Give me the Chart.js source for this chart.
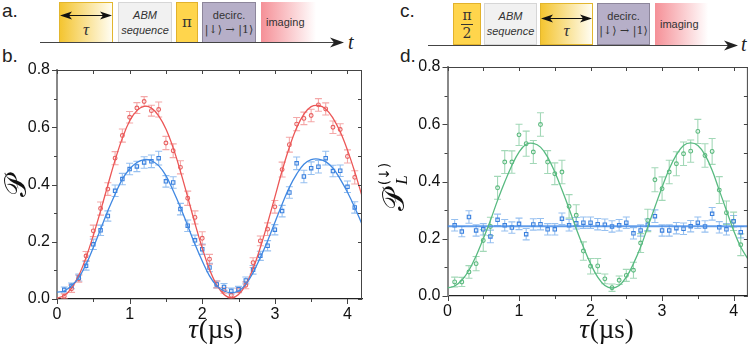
<!DOCTYPE html>
<html>
<head>
<meta charset="utf-8">
<script src="https://cdn.jsdelivr.net/npm/chart.js@4.4.1/dist/chart.umd.min.js"></script>
<style>
  body { margin: 0; width: 753px; height: 347px; overflow: hidden; position: relative; background: #fff;
         font-family: "Liberation Sans", Arial, sans-serif; }
  canvas { position: absolute; top: 0; }
  #chart-b { left: 0; }
  #chart-d { left: 376px; }
  .plabel { position: absolute; font-size: 19px; color: #222; line-height: 1; }
  .box { position: absolute; box-sizing: border-box; display: flex; flex-direction: column;
         align-items: center; justify-content: center; font-size: 11px; color: #333; line-height: 1.35; }
  .tau { background: linear-gradient(to right, #f4c531, #fffdf2); border: 1px solid #e2b62e; }
  .abm { background: #f1f1f1; border: 1px solid #d6d6d6; font-style: italic; }
  .pi { background: #ffd54c; border: 1px solid #e2b22c; font-family: "DejaVu Serif", serif; }
  .dec { background: #b6afc8; border: 1px solid #8d869b; }
  .img { background: linear-gradient(to right, #f59097, #fff 95%); align-items: flex-start; padding-left: 5px; }
  .ket { font-family: "DejaVu Serif", serif; font-size: 11px; }
  .mt { font-family: "Liberation Serif", serif; font-style: italic; }
  svg { position: absolute; left: 0; top: 0; }
</style>
</head>
<body>
<div class="plabel" style="left:2px;top:1px">a.</div>
<div class="plabel" style="left:2px;top:46px">b.</div>
<div class="plabel" style="left:400px;top:1px">c.</div>
<div class="plabel" style="left:400px;top:46px">d.</div>

<!-- sequence a -->
<div class="box tau" style="left:59px;top:2px;width:54px;height:41px"><span class="mt" style="font-size:17px;margin-top:16px">τ</span></div>
<div class="box abm" style="left:118px;top:2px;width:54px;height:41px"><span>ABM</span><span>sequence</span></div>
<div class="box pi" style="left:176px;top:2px;width:22px;height:41px;font-size:15px">π</div>
<div class="box dec" style="left:202px;top:2px;width:54px;height:41px"><span>decirc.</span><span class="ket">|↓⟩ → |1⟩</span></div>
<div class="box img" style="left:261px;top:2px;width:58px;height:41px">imaging</div>

<!-- sequence c -->
<div class="box pi" style="left:453px;top:3px;width:28px;height:42px;font-size:14px;line-height:1">
  <span>π</span><span style="width:12px;border-top:1px solid #333;margin:2px 0 1px"></span><span>2</span></div>
<div class="box abm" style="left:484px;top:3px;width:53px;height:42px"><span>ABM</span><span>sequence</span></div>
<div class="box tau" style="left:540px;top:3px;width:53px;height:42px"><span class="mt" style="font-size:17px;margin-top:14px">τ</span></div>
<div class="box dec" style="left:597px;top:3px;width:53px;height:42px"><span>decirc.</span><span class="ket">|↓⟩ → |1⟩</span></div>
<div class="box img" style="left:655px;top:3px;width:56px;height:42px">imaging</div>

<svg width="753" height="60">
  <g stroke="#444" stroke-width="1" fill="#222">
    <line x1="40" y1="42.5" x2="336" y2="42.5"/>
    <polygon points="344,42.5 330,37.5 334,42.5 330,47.5" stroke="none"/>
    <line x1="428" y1="45.5" x2="730" y2="45.5"/>
    <polygon points="738,45.5 724,40.5 728,45.5 724,50.5" stroke="none"/>
  </g>
  <g stroke="#111" stroke-width="1" fill="#111">
    <line x1="66" y1="15.5" x2="106" y2="15.5"/>
    <polygon points="60,15.5 72,11.5 69,15.5 72,19.5" stroke="none"/>
    <polygon points="112,15.5 100,11.5 103,15.5 100,19.5" stroke="none"/>
    <line x1="547" y1="18.5" x2="586" y2="18.5"/>
    <polygon points="541,18.5 553,14.5 550,18.5 553,22.5" stroke="none"/>
    <polygon points="592,18.5 580,14.5 583,18.5 580,22.5" stroke="none"/>
  </g>
  <text x="348" y="49" font-family="Liberation Serif" font-style="italic" font-size="20" fill="#222">t</text>
  <text x="741" y="51" font-family="Liberation Serif" font-style="italic" font-size="20" fill="#222">t</text>
</svg>

<canvas id="chart-b" width="376" height="347"></canvas>
<canvas id="chart-d" width="377" height="347"></canvas>

<script>
// measured points, tau in µs
const TAU_PTS = [0.1, 0.2, 0.3, 0.4, 0.5, 0.6, 0.7, 0.8, 0.9, 1.0, 1.1, 1.2, 1.3, 1.4, 1.5, 1.6, 1.7, 1.8, 1.9, 2.0,
  2.1, 2.2, 2.3, 2.4, 2.5, 2.6, 2.7, 2.8, 2.9, 3.0, 3.1, 3.2, 3.3, 3.4, 3.5, 3.6, 3.7, 3.8, 3.9, 4.0, 4.1];
// fit curves sampled on this grid
const TAU_FIT = [0.0, 0.1, 0.2, 0.3, 0.4, 0.5, 0.6, 0.7, 0.8, 0.9, 1.0, 1.1, 1.2, 1.3, 1.4, 1.5, 1.6, 1.7, 1.8, 1.9, 2.0,
  2.1, 2.2, 2.3, 2.4, 2.5, 2.6, 2.7, 2.8, 2.9, 3.0, 3.1, 3.2, 3.3, 3.4, 3.5, 3.6, 3.7, 3.8, 3.9, 4.0, 4.1, 4.2];

// panel b
const RED_B = [0.010, 0.036, 0.071, 0.150, 0.238, 0.316, 0.384, 0.492, 0.571, 0.635, 0.667, 0.690, 0.658, 0.662, 0.545,
  0.518, 0.460, 0.352, 0.285, 0.212, 0.139, 0.051, 0.030, 0.013, 0.030, 0.048, 0.127, 0.203, 0.244, 0.322, 0.452,
  0.539, 0.611, 0.631, 0.641, 0.678, 0.664, 0.600, 0.592, 0.498, 0.425];
const RED_B_ERR = [0.008, 0.013, 0.012, 0.016, 0.020, 0.023, 0.022, 0.023, 0.023, 0.020, 0.019, 0.017, 0.019, 0.026,
  0.023, 0.024, 0.023, 0.025, 0.023, 0.023, 0.017, 0.012, 0.010, 0.009, 0.008, 0.012, 0.017, 0.017, 0.022, 0.022,
  0.026, 0.026, 0.023, 0.022, 0.022, 0.022, 0.021, 0.022, 0.020, 0.023, 0.023];
const BLUE_B = [0.032, 0.046, 0.075, 0.116, 0.191, 0.240, 0.290, 0.378, 0.419, 0.454, 0.463, 0.477, 0.481, 0.492, 0.411,
  0.407, 0.314, 0.256, 0.205, 0.174, 0.110, 0.051, 0.042, 0.028, 0.034, 0.065, 0.102, 0.151, 0.186, 0.242, 0.307,
  0.372, 0.474, 0.428, 0.457, 0.462, 0.492, 0.447, 0.448, 0.392, 0.320];
const BLUE_B_ERR = [0.010, 0.010, 0.012, 0.015, 0.018, 0.018, 0.018, 0.020, 0.020, 0.020, 0.018, 0.020, 0.022, 0.024,
  0.020, 0.020, 0.020, 0.020, 0.018, 0.018, 0.015, 0.012, 0.012, 0.010, 0.010, 0.012, 0.015, 0.016, 0.018, 0.018,
  0.020, 0.020, 0.022, 0.022, 0.022, 0.022, 0.024, 0.020, 0.020, 0.020, 0.020];
const RED_B_FIT = [0.003, 0.012, 0.038, 0.082, 0.145, 0.222, 0.308, 0.398, 0.485, 0.562, 0.622, 0.658, 0.673, 0.667,
  0.640, 0.594, 0.528, 0.446, 0.356, 0.264, 0.178, 0.104, 0.049, 0.016, 0.004, 0.016, 0.050, 0.106, 0.180, 0.265,
  0.356, 0.448, 0.530, 0.598, 0.646, 0.672, 0.676, 0.664, 0.632, 0.584, 0.520, 0.444, 0.360];
const BLUE_B_FIT = [0.024, 0.028, 0.046, 0.075, 0.121, 0.180, 0.244, 0.308, 0.366, 0.419, 0.454, 0.477, 0.487, 0.483,
  0.466, 0.431, 0.378, 0.320, 0.256, 0.191, 0.133, 0.081, 0.046, 0.028, 0.022, 0.028, 0.051, 0.092, 0.145, 0.203,
  0.267, 0.331, 0.390, 0.436, 0.471, 0.487, 0.489, 0.480, 0.457, 0.419, 0.373, 0.320, 0.261];

// panel d
const GREEN_D = [0.049, 0.049, 0.084, 0.113, 0.194, 0.243, 0.378, 0.468, 0.468, 0.563, 0.532, 0.503, 0.599, 0.468,
  0.427, 0.433, 0.313, 0.282, 0.157, 0.104, 0.105, 0.060, 0.029, 0.055, 0.072, 0.090, 0.185, 0.264, 0.406, 0.375,
  0.433, 0.462, 0.497, 0.506, 0.575, 0.491, 0.505, 0.370, 0.291, 0.261, 0.179];
const GREEN_D_ERR = [0.017, 0.016, 0.022, 0.025, 0.038, 0.032, 0.040, 0.040, 0.039, 0.037, 0.044, 0.040, 0.041, 0.040,
  0.038, 0.041, 0.041, 0.037, 0.032, 0.027, 0.026, 0.017, 0.013, 0.015, 0.021, 0.028, 0.033, 0.039, 0.042, 0.041,
  0.041, 0.042, 0.041, 0.039, 0.042, 0.041, 0.045, 0.047, 0.041, 0.032, 0.038];
const BLUE_D = [0.247, 0.225, 0.276, 0.229, 0.233, 0.208, 0.266, 0.247, 0.239, 0.252, 0.216, 0.250, 0.251, 0.233,
  0.233, 0.270, 0.247, 0.254, 0.256, 0.256, 0.251, 0.249, 0.243, 0.247, 0.256, 0.219, 0.229, 0.249, 0.279, 0.229,
  0.229, 0.237, 0.235, 0.244, 0.256, 0.243, 0.287, 0.240, 0.233, 0.261, 0.223];
const BLUE_D_ERR = [0.020, 0.018, 0.022, 0.020, 0.020, 0.022, 0.020, 0.020, 0.020, 0.020, 0.020, 0.020, 0.020, 0.020,
  0.020, 0.020, 0.020, 0.020, 0.020, 0.020, 0.020, 0.020, 0.020, 0.020, 0.020, 0.020, 0.020, 0.020, 0.022, 0.020,
  0.020, 0.020, 0.020, 0.020, 0.020, 0.020, 0.022, 0.020, 0.020, 0.020, 0.020];
const GREEN_D_FIT = [0.028, 0.035, 0.055, 0.090, 0.140, 0.200, 0.264, 0.334, 0.398, 0.456, 0.503, 0.530, 0.533, 0.520,
  0.485, 0.433, 0.371, 0.305, 0.235, 0.171, 0.113, 0.066, 0.037, 0.028, 0.037, 0.066, 0.113, 0.171, 0.241, 0.311,
  0.380, 0.444, 0.493, 0.526, 0.535, 0.526, 0.493, 0.439, 0.369, 0.299, 0.229, 0.171, 0.130];
const BLUE_D_LEVEL = 0.244;

const X_RANGE = [0, 4.2];
const Y_RANGE = [0, 0.8];

const pts = (xs, ys) => xs.map((x, i) => ({ x, y: ys[i] }));

function pointSet(xs, ys, errs, color, errColor, style) {
  return {
    data: pts(xs, ys), errors: errs, errColor,
    showLine: false, pointStyle: style, pointRadius: style === "rect" ? 2.4 : 1.9,
    borderColor: color, backgroundColor: "rgba(255,255,255,0.4)", pointBorderWidth: 1.1,
  };
}

function fitSet(xs, ys, color, width) {
  return { data: pts(xs, ys), showLine: true, borderColor: color, borderWidth: width || 1.3,
    pointRadius: 0, tension: 0.4, fill: false };
}

const deco = {
  id: "deco",
  beforeDatasetsDraw(chart) {
    const { ctx, scales: { x, y } } = chart;
    ctx.save();
    chart.data.datasets.forEach((ds) => {
      if (!ds.errors) return;
      ctx.strokeStyle = ds.errColor;
      ctx.lineWidth = 1.1;
      ds.data.forEach((p, i) => {
        const px = x.getPixelForValue(p.x);
        const y1 = y.getPixelForValue(p.y - ds.errors[i]);
        const y2 = y.getPixelForValue(p.y + ds.errors[i]);
        ctx.beginPath();
        ctx.moveTo(px, y1); ctx.lineTo(px, y2);
        ctx.moveTo(px - 3.5, y1); ctx.lineTo(px + 3.5, y1);
        ctx.moveTo(px - 3.5, y2); ctx.lineTo(px + 3.5, y2);
        ctx.stroke();
      });
    });
    ctx.restore();
  },
  afterDraw(chart) {
    const o = chart.options.plugins.deco;
    const { ctx, chartArea: a, scales: { x, y } } = chart;
    ctx.save();
    ctx.strokeStyle = "#444";
    ctx.lineWidth = 1;
    ctx.beginPath();
    ctx.moveTo(a.left, a.top + 0.5); ctx.lineTo(a.right, a.top + 0.5);
    ctx.moveTo(a.right - 0.5, a.top); ctx.lineTo(a.right - 0.5, a.bottom);
    // top + bottom ticks every 0.5
    for (let k = 0; k <= 8; k++) {
      const px = Math.round(x.getPixelForValue(k * 0.5)) + 0.5;
      ctx.moveTo(px, a.top); ctx.lineTo(px, a.top + 4);
      ctx.moveTo(px, a.bottom); ctx.lineTo(px, a.bottom + (k % 2 ? 3 : 5));
    }
    // left + right ticks every 0.1
    for (let k = 0; k <= 8; k++) {
      const py = Math.round(y.getPixelForValue(k * 0.1)) + 0.5;
      ctx.moveTo(a.left, py); ctx.lineTo(a.left - (k % 2 ? 3 : 5), py);
      ctx.moveTo(a.right, py); ctx.lineTo(a.right - 4, py);
    }
    ctx.stroke();

    // x title: tau(µs)
    ctx.fillStyle = "#111";
    ctx.textBaseline = "alphabetic";
    ctx.font = "italic 27px 'Liberation Serif'";
    const wt = ctx.measureText("τ").width;
    ctx.font = "27px 'Liberation Serif'";
    const wu = ctx.measureText("(µs)").width;
    let tx = o.xTitleX - (wt + wu) / 2;
    ctx.font = "italic 27px 'Liberation Serif'";
    ctx.fillText("τ", tx, o.xTitleY);
    ctx.font = "27px 'Liberation Serif'";
    ctx.fillText("(µs)", tx + wt + 1, o.xTitleY);

    // y title
    ctx.translate(o.yTitleX, o.yTitleY);
    ctx.rotate(-Math.PI / 2);
    ctx.textAlign = "center";
    ctx.textBaseline = "middle";
    ctx.font = "30px 'DejaVu Serif'";
    if (o.sub) {
      ctx.fillText("𝒫", -14, 0);
      ctx.font = "italic 17px 'Liberation Serif'";
      ctx.fillText("L", 6, 7);
      ctx.font = "14px 'DejaVu Sans'";
      ctx.fillText("(↓)", 12, -11);
    } else {
      ctx.fillText("𝒫", 0, 0);
    }
    ctx.restore();
  },
};

function panelOptions(pad, yWidth, xHeight, decoOpts) {
  return {
    responsive: false,
    animation: false,
    layout: { padding: pad },
    plugins: { legend: { display: false }, tooltip: { enabled: false }, deco: decoOpts },
    scales: {
      x: {
        type: "linear", min: X_RANGE[0], max: X_RANGE[1],
        afterFit: (s) => { s.height = xHeight; },
        grid: { display: false, drawTicks: false },
        border: { display: true, color: "#222", width: 1.3 },
        ticks: { stepSize: 1, includeBounds: false, padding: 6, color: "#111",
          font: { family: "'Liberation Sans', Arial", size: 16 }, callback: (v) => String(v) },
      },
      y: {
        type: "linear", min: Y_RANGE[0], max: Y_RANGE[1],
        afterFit: (s) => { s.width = yWidth; },
        grid: { display: false, drawTicks: false },
        border: { display: true, color: "#888", width: 2 },
        ticks: { stepSize: 0.2, padding: 7, color: "#111",
          font: { family: "'Liberation Sans', Arial", size: 16 }, callback: (v) => v.toFixed(1) },
      },
    },
  };
}

new Chart(document.getElementById("chart-b"), {
  type: "scatter",
  data: {
    datasets: [
      fitSet(TAU_FIT, BLUE_B_FIT, "rgb(64,136,226)"),
      fitSet(TAU_FIT, RED_B_FIT, "rgb(236,86,86)"),
      pointSet(TAU_PTS, BLUE_B, BLUE_B_ERR, "rgb(58,128,222)", "rgba(80,150,230,0.6)", "rect"),
      pointSet(TAU_PTS, RED_B, RED_B_ERR, "rgb(232,96,96)", "rgba(236,110,110,0.6)", "circle"),
    ],
  },
  options: panelOptions({ top: 70, right: 14, left: 0, bottom: 0 }, 57, 48,
    { xTitleX: 215, xTitleY: 338, yTitleX: 18, yTitleY: 186 }),
  plugins: [deco],
});

new Chart(document.getElementById("chart-d"), {
  type: "scatter",
  data: {
    datasets: [
      fitSet(TAU_FIT, GREEN_D_FIT, "rgb(88,186,128)"),
      fitSet(X_RANGE, [BLUE_D_LEVEL, BLUE_D_LEVEL], "rgba(70,140,230,0.85)", 2),
      pointSet(TAU_PTS, BLUE_D, BLUE_D_ERR, "rgb(58,128,222)", "rgba(80,150,230,0.6)", "rect"),
      pointSet(TAU_PTS, GREEN_D, GREEN_D_ERR, "rgb(90,185,125)", "rgba(100,190,135,0.6)", "circle"),
    ],
  },
  options: panelOptions({ top: 67, right: 1, left: 0, bottom: 0 }, 71.5, 51,
    { xTitleX: 230, xTitleY: 338, yTitleX: 20, yTitleY: 186, sub: true }),
  plugins: [deco],
});
</script>
</body>
</html>
